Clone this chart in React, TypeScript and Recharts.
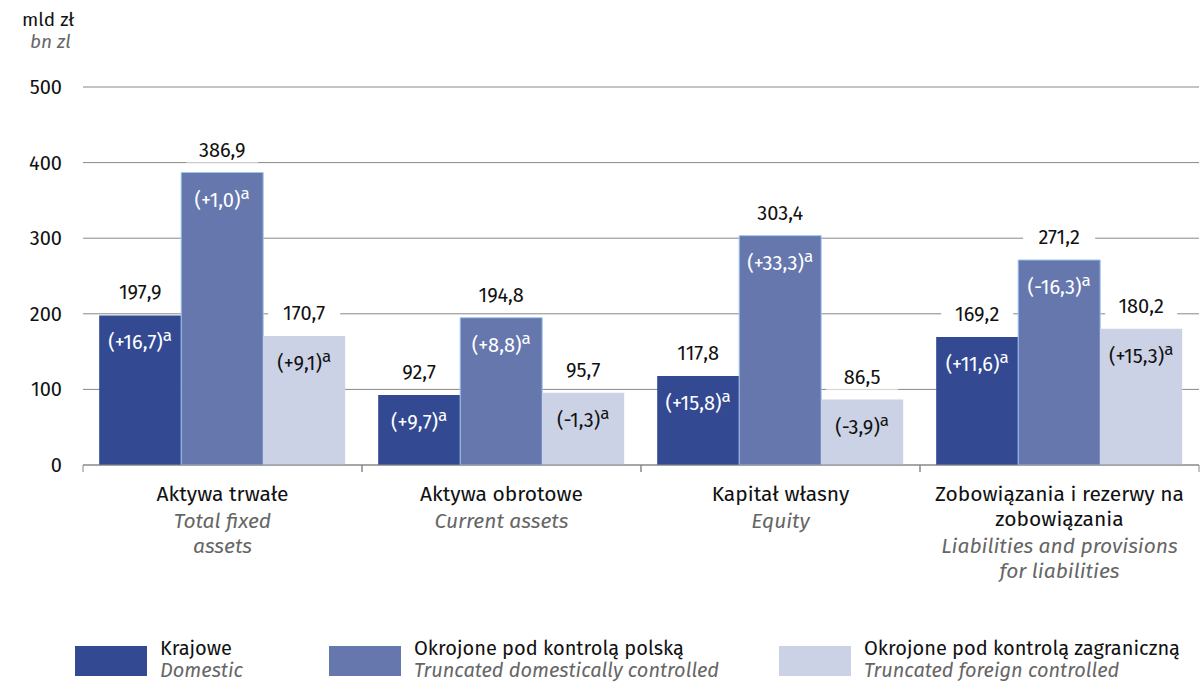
import { BarChart, Bar, XAxis, YAxis, CartesianGrid, LabelList } from 'recharts';

const categoryIds = [0, 1, 2, 3];
const categoriesPl = [['Aktywa trwałe'], ['Aktywa obrotowe'], ['Kapitał własny'], ['Zobowiązania i rezerwy na', 'zobowiązania']];
const categoriesEn = [['Total fixed', 'assets'], ['Current assets'], ['Equity'], ['Liabilities and provisions', 'for liabilities']];

const domestic = [197.9, 92.7, 117.8, 169.2];
const domesticChange = [16.7, 9.7, 15.8, 11.6];
const polish = [386.9, 194.8, 303.4, 271.2];
const polishChange = [1.0, 8.8, 33.3, -16.3];
const foreign = [170.7, 95.7, 86.5, 180.2];
const foreignChange = [9.1, -1.3, -3.9, 15.3];

const yTicks = [0, 100, 200, 300, 400, 500];

const seriesNames = [
  { pl: 'Krajowe', en: 'Domestic' },
  { pl: 'Okrojone pod kontrolą polską', en: 'Truncated domestically controlled' },
  { pl: 'Okrojone pod kontrolą zagraniczną', en: 'Truncated foreign controlled' },
];

const chartData = categoryIds.map((id, i) => ({
  id,
  domestic: domestic[i], domesticChange: domesticChange[i],
  polish: polish[i], polishChange: polishChange[i],
  foreign: foreign[i], foreignChange: foreignChange[i],
}));

const FONT = '"Fira Sans", "Open Sans", sans-serif';
const COLORS = ['#334a93', '#6577ad', '#ccd2e5'];
const W = 1204;
const H = 683;
const MARGIN = { top: 87, right: 5, left: 0, bottom: 78 };
const Y_AXIS_W = 83;
const X_AXIS_H = 140;
const PLOT_BOTTOM = H - MARGIN.bottom - X_AXIS_H;
const BAND = (W - MARGIN.left - MARGIN.right - Y_AXIS_W) / categoryIds.length;

const fmt = (v: number) => v.toFixed(1).replace('.', ',');
const fmtChange = (v: number) => (v > 0 ? '+' : '') + fmt(v);

const ValueLabel = (props: any) => {
  const { x, y, width, value } = props;
  const cx = x + width / 2;
  const cy = y - 23;
  return (
    <g>
      <rect x={cx - 36} y={cy - 13} width={72} height={26} fill="#fff" />
      <text x={cx} y={cy} dy="0.35em" textAnchor="middle" fontSize={20} fontFamily={FONT} fill="#111">
        {fmt(Number(value))}
      </text>
    </g>
  );
};

const makeChangeLabel = (color: string) => (props: any) => {
  const { x, y, width, value } = props;
  const cx = x + width / 2;
  return (
    <text x={cx} y={y + 27} dy="0.35em" textAnchor="middle" fontSize={20} fontFamily={FONT} fill={color}>
      ({fmtChange(Number(value))})<tspan dy={-8} fontSize={17}>a</tspan>
    </text>
  );
};

const XTick = (props: any) => {
  const { x, payload } = props;
  const i = Number(payload.value);
  const pl = categoriesPl[i];
  const en = categoriesEn[i];
  const base = PLOT_BOTTOM + 36;
  const enBase = base + (pl.length - 1) * 25 + 27;
  return (
    <g>
      <line x1={x - BAND / 2} x2={x - BAND / 2} y1={PLOT_BOTTOM} y2={PLOT_BOTTOM + 7} stroke="#888" />
      <line x1={x + BAND / 2} x2={x + BAND / 2} y1={PLOT_BOTTOM} y2={PLOT_BOTTOM + 7} stroke="#888" />
      {pl.map((t, k) => (
        <text key={'p' + k} x={x} y={base + k * 25} textAnchor="middle" fontSize={21} fontFamily={FONT} fill="#111">{t}</text>
      ))}
      {en.map((t, k) => (
        <text key={'e' + k} x={x} y={enBase + k * 25} textAnchor="middle" fontSize={21} fontStyle="italic" fontFamily={FONT} fill="#666">{t}</text>
      ))}
    </g>
  );
};

const YTick = (props: any) => {
  const { y, payload } = props;
  return (
    <text x={62} y={y} dy="0.35em" textAnchor="end" fontSize={20} fontFamily={FONT} fill="#111">
      {payload.value}
    </text>
  );
};

const legendPos = [75, 329, 779];

export default function App() {
  return (
    <div style={{ position: 'fixed', left: 0, top: 0, width: W, height: H, background: '#fff', fontFamily: FONT }}>
      <div style={{ position: 'absolute', left: 22, top: 9, fontSize: 19, color: '#111', lineHeight: '21px' }}>mld zł</div>
      <div style={{ position: 'absolute', left: 30, top: 31, fontSize: 19, color: '#666', fontStyle: 'italic', lineHeight: '21px' }}>bn zl</div>
      <BarChart width={W} height={H} data={chartData} margin={MARGIN} barCategoryGap="5.8%" barGap={0}>
        <CartesianGrid vertical={false} stroke="#888" />
        <XAxis dataKey="id" height={X_AXIS_H} tick={<XTick />} tickLine={false} axisLine={{ stroke: '#888' }} interval={0} />
        <YAxis width={Y_AXIS_W} domain={[0, 500]} ticks={yTicks} tick={<YTick />} axisLine={false} tickLine={false} />
        <Bar dataKey="domestic" fill={COLORS[0]} isAnimationActive={false}>
          <LabelList dataKey="domestic" content={ValueLabel} />
          <LabelList dataKey="domesticChange" content={makeChangeLabel('#fff')} />
        </Bar>
        <Bar dataKey="polish" fill={COLORS[1]} stroke="#9fc6ee" strokeWidth={1} isAnimationActive={false}>
          <LabelList dataKey="polish" content={ValueLabel} />
          <LabelList dataKey="polishChange" content={makeChangeLabel('#fff')} />
        </Bar>
        <Bar dataKey="foreign" fill={COLORS[2]} isAnimationActive={false}>
          <LabelList dataKey="foreign" content={ValueLabel} />
          <LabelList dataKey="foreignChange" content={makeChangeLabel('#111')} />
        </Bar>
      </BarChart>
      {seriesNames.map((s, i) => (
        <div key={s.pl} style={{ position: 'absolute', left: legendPos[i], top: 646 }}>
          <div style={{ position: 'absolute', left: 0, top: 0, width: 72, height: 30, background: COLORS[i] }} />
          <div style={{ position: 'absolute', left: 85, top: -9, whiteSpace: 'nowrap', fontSize: 20, lineHeight: '22px' }}>
            <div style={{ color: '#111' }}>{s.pl}</div>
            <div style={{ color: '#666', fontStyle: 'italic' }}>{s.en}</div>
          </div>
        </div>
      ))}
    </div>
  );
}
